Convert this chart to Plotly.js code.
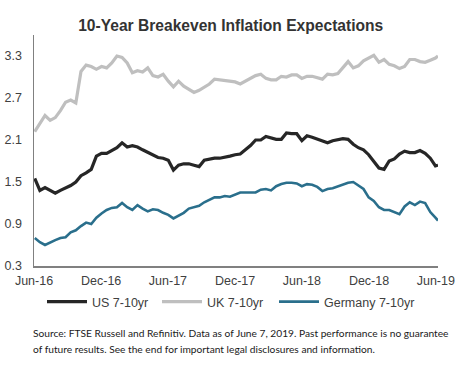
<!DOCTYPE html>
<html>
<head>
<meta charset="utf-8">
<script src="https://cdn.plot.ly/plotly-3.0.1.min.js"></script>
<style>html,body{margin:0;padding:0;background:#fff;}#chart{width:468px;height:370px;}</style>
</head>
<body>
<div id="chart"></div>
<script>
const dates = [
"2016-06-03","2016-06-17","2016-07-01","2016-07-15","2016-07-29","2016-08-12","2016-08-26","2016-09-09","2016-09-23","2016-10-07",
"2016-10-21","2016-11-04","2016-11-18","2016-12-02","2016-12-16","2016-12-30","2017-01-13","2017-01-27","2017-02-10","2017-02-24",
"2017-03-10","2017-03-24","2017-04-07","2017-04-21","2017-05-05","2017-05-19","2017-06-02","2017-06-16","2017-06-30","2017-07-14",
"2017-07-28","2017-08-11","2017-08-25","2017-09-08","2017-09-22","2017-10-06","2017-10-20","2017-11-03","2017-11-17","2017-12-01",
"2017-12-15","2017-12-29","2018-01-12","2018-01-26","2018-02-09","2018-02-23","2018-03-09","2018-03-23","2018-04-06","2018-04-20",
"2018-05-04","2018-05-18","2018-06-01","2018-06-15","2018-06-29","2018-07-13","2018-07-27","2018-08-10","2018-08-24","2018-09-07",
"2018-09-21","2018-10-05","2018-10-19","2018-11-02","2018-11-16","2018-11-30","2018-12-14","2018-12-28","2019-01-11","2019-01-25",
"2019-02-08","2019-02-22","2019-03-08","2019-03-22","2019-04-05","2019-04-19","2019-05-03","2019-05-17","2019-05-31","2019-06-07"];

const us = [
1.55,1.38,1.42,1.38,1.34,1.38,1.41,1.45,1.50,1.59,
1.63,1.68,1.87,1.91,1.91,1.95,1.99,2.06,2.00,2.02,
2.00,1.96,1.92,1.88,1.85,1.84,1.81,1.67,1.74,1.76,
1.76,1.74,1.72,1.81,1.83,1.84,1.84,1.85,1.87,1.89,
1.90,1.96,2.02,2.10,2.10,2.15,2.13,2.11,2.11,2.20,
2.19,2.19,2.09,2.16,2.14,2.11,2.08,2.06,2.09,2.11,
2.12,2.11,2.04,1.99,1.96,1.89,1.80,1.70,1.68,1.80,
1.83,1.90,1.94,1.92,1.92,1.95,1.91,1.84,1.73,1.74];

const uk = [
2.22,2.33,2.45,2.38,2.42,2.52,2.64,2.67,2.63,3.08,
3.17,3.15,3.11,3.15,3.13,3.20,3.30,3.28,3.20,3.06,
3.09,3.07,3.13,3.02,3.00,3.04,2.94,2.86,2.94,2.87,
2.82,2.78,2.81,2.86,2.90,2.97,2.96,2.96,2.95,2.93,
2.90,2.94,2.99,3.02,3.04,2.98,2.96,2.96,3.01,3.00,
3.03,3.03,2.98,3.01,3.01,2.99,2.97,3.04,3.03,3.05,
3.13,3.22,3.13,3.16,3.23,3.27,3.31,3.21,3.25,3.18,
3.16,3.12,3.15,3.25,3.25,3.22,3.21,3.24,3.27,3.30];

const germany = [
0.70,0.64,0.60,0.64,0.67,0.70,0.71,0.78,0.81,0.87,
0.92,0.90,0.99,1.05,1.10,1.13,1.14,1.20,1.14,1.10,
1.17,1.12,1.08,1.11,1.10,1.06,1.03,0.98,1.02,1.06,
1.12,1.14,1.16,1.21,1.25,1.28,1.28,1.30,1.29,1.32,
1.35,1.35,1.35,1.35,1.39,1.40,1.38,1.44,1.47,1.49,
1.49,1.48,1.44,1.47,1.46,1.43,1.37,1.40,1.41,1.44,
1.47,1.49,1.50,1.45,1.40,1.28,1.23,1.14,1.10,1.10,
1.07,1.04,1.15,1.21,1.17,1.22,1.20,1.07,0.99,0.95];

const seriesNames = ["US 7-10yr","UK 7-10yr","Germany 7-10yr"];
const xTickVals = ["2016-06-01","2016-12-01","2017-06-01","2017-12-01","2018-06-01","2018-12-01","2019-06-01"];
const xTickText = ["Jun-16","Dec-16","Jun-17","Dec-17","Jun-18","Dec-18","Jun-19"];
const yTickVals = [0.3,0.9,1.5,2.1,2.7,3.3];
const yTickText = ["0.3","0.9","1.5","2.1","2.7","3.3"];
const titleText = "<b>10-Year Breakeven Inflation Expectations</b>";
const sourceLines = [
  "Source: FTSE Russell and Refinitiv. Data as of June 7, 2019. Past performance is no guarantee",
  "of future results. See the end for important legal disclosures and information."
];

const txt = "#404040";
const traces = [
  {x: dates, y: us, name: seriesNames[0], type: "scatter", mode: "lines", legend: "legend", line: {color: "#262626", width: 3.2}},
  {x: dates, y: uk, name: seriesNames[1], type: "scatter", mode: "lines", legend: "legend2", line: {color: "#bfbfbf", width: 3.2}},
  {x: dates, y: germany, name: seriesNames[2], type: "scatter", mode: "lines", legend: "legend3", line: {color: "#2a6f8c", width: 2.6}}
];

const legY = (266 - 302) / 231;
function leg(px) {
  return {orientation: "h", x: (px - 34) / 404, xanchor: "left", y: legY, yanchor: "middle",
          font: {size: 12.5, color: txt}, itemwidth: 40, bgcolor: "rgba(0,0,0,0)", borderwidth: 0};
}

const srcFont = {family: "Lato, Carlito, sans-serif", size: 10.2, color: "#1a1a1a"};
const layout = {
  width: 468, height: 370,
  margin: {l: 34, r: 30, t: 35, b: 104},
  paper_bgcolor: "#ffffff", plot_bgcolor: "#ffffff",
  font: {family: "Liberation Sans, Arial, sans-serif", size: 12, color: txt},
  title: {text: titleText, x: 0.493, xanchor: "center", y: 0.932, yanchor: "middle",
          font: {family: "Liberation Sans, Arial, sans-serif", size: 15.6, color: "#333333"}},
  showlegend: true,
  legend: leg(42),
  legend2: leg(157),
  legend3: leg(274),
  xaxis: {type: "date", range: ["2016-06-01", "2019-06-07"], tickvals: xTickVals, ticktext: xTickText,
          showgrid: false, zeroline: false, showline: true, linecolor: "#808080", linewidth: 1.5,
          ticks: "", tickfont: {size: 12.5, color: txt}, ticklabelstandoff: 2, fixedrange: true},
  yaxis: {range: [0.3, 3.6], tickvals: yTickVals, ticktext: yTickText,
          showgrid: false, zeroline: false, showline: true, linecolor: "#808080", linewidth: 1.5,
          ticks: "", tickfont: {size: 12.5, color: txt}, ticklabelstandoff: 8, fixedrange: true},
  annotations: [
    {text: sourceLines[0], xref: "paper", yref: "paper", x: -0.008, y: (266 - 333) / 231, xanchor: "left", yanchor: "middle",
     align: "left", showarrow: false, font: srcFont},
    {text: sourceLines[1], xref: "paper", yref: "paper", x: -0.008, y: (266 - 349) / 231, xanchor: "left", yanchor: "middle",
     align: "left", showarrow: false, font: srcFont}
  ]
};

Plotly.newPlot("chart", traces, layout, {displayModeBar: false, staticPlot: true});
</script>
</body>
</html>
